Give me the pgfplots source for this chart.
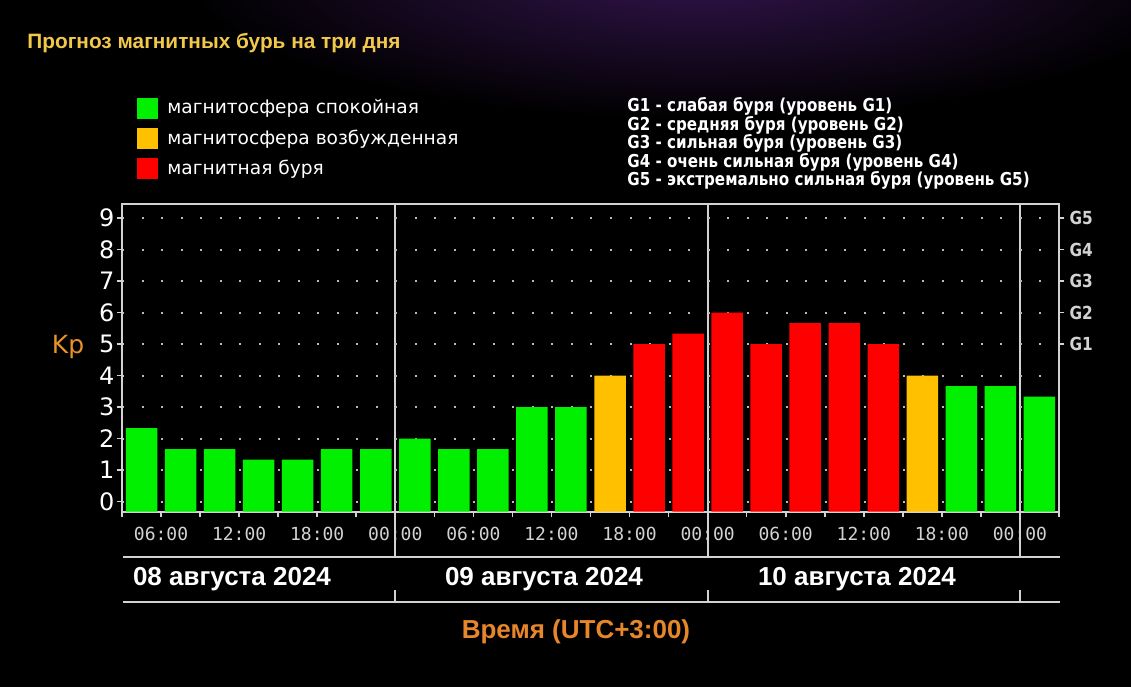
\documentclass[border=0pt]{standalone}
\usepackage{fontspec}
\usepackage{pgfplots}
\pgfplotsset{compat=1.18}
\usepackage{pgfplotstable}
\setmainfont{DejaVu Sans}
\newfontfamily\lib{Liberation Sans}
\newfontfamily\mono{DejaVu Sans Mono}
\newfontfamily\cond[FakeStretch=0.85]{DejaVu Sans}

\definecolor{bargreen}{HTML}{00F000}
\definecolor{baryellow}{HTML}{FFC000}
\definecolor{barred}{HTML}{FF0000}
\definecolor{axisgray}{HTML}{D2D2D2}
\definecolor{dotgray}{HTML}{B8B8B8}
\definecolor{titleyellow}{HTML}{F2C84B}
\definecolor{kporange}{HTML}{E8922A}
\definecolor{timeorange}{HTML}{E8862A}
\definecolor{nebula}{HTML}{33144D}

\pgfplotsset{sq/.style={legend image code/.code={\fill[##1] (0pt,-5.25pt) rectangle (10.5pt,5.25pt);}}}

% t = hours since 03:00 08.08.2024 (UTC+3), kp = Kp index
\pgfplotstableread{
t kp
1.5 2.33
4.5 1.67
7.5 1.67
10.5 1.33
13.5 1.33
16.5 1.67
19.5 1.67
22.5 2.00
25.5 1.67
28.5 1.67
31.5 3.00
34.5 3.00
64.5 3.67
67.5 3.67
70.5 3.33
}\greendata
\pgfplotstableread{
t kp
37.5 4.00
61.5 4.00
}\yellowdata
\pgfplotstableread{
t kp
40.5 5.00
43.5 5.33
46.5 6.00
49.5 5.00
52.5 5.67
55.5 5.67
58.5 5.00
}\reddata

\begin{document}
\begin{tikzpicture}
\fill[black] (0,0) rectangle (565.5pt,343.5pt);
\begin{scope}[x=0.5pt,y=-0.5pt,shift={(0pt,343.5pt)}]
  \begin{scope}
    \clip (0,0) rectangle (1131,687);
    \shade[inner color=nebula, outer color=black] (700,-30) ellipse [x radius=260pt, y radius=75pt];
  \end{scope}
  % title
  \node[anchor=west, inner sep=0pt, text=titleyellow, font=\lib\bfseries\fontsize{10.4}{12}\selectfont] at (27,43) {Прогноз магнитных бурь на три дня};
  % G scale description
  \node[anchor=north west, inner sep=0pt, align=left, text=white, font=\cond\bfseries\fontsize{8.9}{9.25}\selectfont] at (627,97) {G1 - слабая буря (уровень G1)\\G2 - средняя буря (уровень G2)\\G3 - сильная буря (уровень G3)\\G4 - очень сильная буря (уровень G4)\\G5 - экстремально сильная буря (уровень G5)};
  % Kp label
  \node[text=kporange, inner sep=0pt, font=\fontsize{12.5}{14}\selectfont] at (68,347) {Kp};
  % day separators
  \foreach \xx in {395.3,707.6,1019.9} {
    \draw[axisgray, line width=1pt] (\xx,204.3) -- (\xx,557);
    \draw[axisgray, line width=1pt] (\xx,590) -- (\xx,602);
  }
  \draw[axisgray, line width=1pt] (123,557) -- (1060,557);
  \draw[axisgray, line width=1pt] (123,602) -- (1060,602);
  \node[text=white, font=\lib\bfseries\fontsize{13}{15}\selectfont] at (232,579) {08 августа 2024};
  \node[text=white, font=\lib\bfseries\fontsize{13}{15}\selectfont] at (544,579) {09 августа 2024};
  \node[text=white, font=\lib\bfseries\fontsize{13}{15}\selectfont] at (857,579) {10 августа 2024};
  \node[text=timeorange, font=\lib\bfseries\fontsize{13}{15}\selectfont] at (576,632) {Время (UTC+3:00)};
\end{scope}

\begin{axis}[
  at={(61pt,87.65pt)}, anchor=south west,
  scale only axis, width=468.5pt, height=153.7pt,
  xmin=0, xmax=72, ymin=0, ymax=9.76,
  axis line style={draw=axisgray, line width=1pt},
  ybar, bar width=2.42,
  xtick={0,3,...,72},
  xticklabels={,06:00,,12:00,,18:00,,00:00,,06:00,,12:00,,18:00,,00:00,,06:00,,12:00,,18:00,,00:00,},
  xtick pos=bottom, ytick pos=left,
  tick align=outside, major tick length=2.75pt,
  tick style={draw=axisgray, line width=0.8pt},
  ytick={0.32,1.32,2.32,3.32,4.32,5.32,6.32,7.32,8.32,9.32},
  yticklabels={0,1,2,3,4,5,6,7,8,9},
  ymajorgrids,
  grid style={draw=dotgray, line width=1pt, dash pattern=on 1pt off 8.76pt},
  xticklabel style={font=\mono\fontsize{9}{10}\selectfont, text=axisgray, yshift=-1.5pt},
  yticklabel style={font=\fontsize{12}{13}\selectfont, text=white, xshift=2.5pt},
  legend style={at={(axis description cs:0.016,1.355)}, anchor=north west,
    draw=none, fill=none, text=white, inner sep=0pt, row sep=2.5pt,
    font=\fontsize{9.3}{10}\selectfont,
    /tikz/every odd column/.append style={column sep=2.5pt}},
  legend cell align=left,
]
\addplot[fill=bargreen, draw=none, bar shift=0pt, sq]
  table[x=t, y expr=\thisrow{kp}+0.32] {\greendata};
\addlegendentry{магнитосфера спокойная}
\addplot[fill=baryellow, draw=none, bar shift=0pt, sq]
  table[x=t, y expr=\thisrow{kp}+0.32] {\yellowdata};
\addlegendentry{магнитосфера возбужденная}
\addplot[fill=barred, draw=none, bar shift=0pt, sq]
  table[x=t, y expr=\thisrow{kp}+0.32] {\reddata};
\addlegendentry{магнитная буря}
\end{axis}

\begin{axis}[
  at={(61pt,87.65pt)}, anchor=south west,
  scale only axis, width=468.5pt, height=153.7pt,
  xmin=0, xmax=72, ymin=0, ymax=9.76,
  hide x axis, axis y line*=right,
  y axis line style={draw=axisgray, line width=1pt},
  tick align=outside, major tick length=2.75pt,
  tick style={draw=axisgray, line width=0.8pt},
  ytick={5.32,6.32,7.32,8.32,9.32},
  yticklabels={G1,G2,G3,G4,G5},
  yticklabel style={font=\cond\bfseries\fontsize{9}{10}\selectfont, text=axisgray, xshift=-1pt},
]
\end{axis}
\pgfresetboundingbox
\path[use as bounding box] (0,0) rectangle (565.5pt,343.5pt);
\end{tikzpicture}
\end{document}
